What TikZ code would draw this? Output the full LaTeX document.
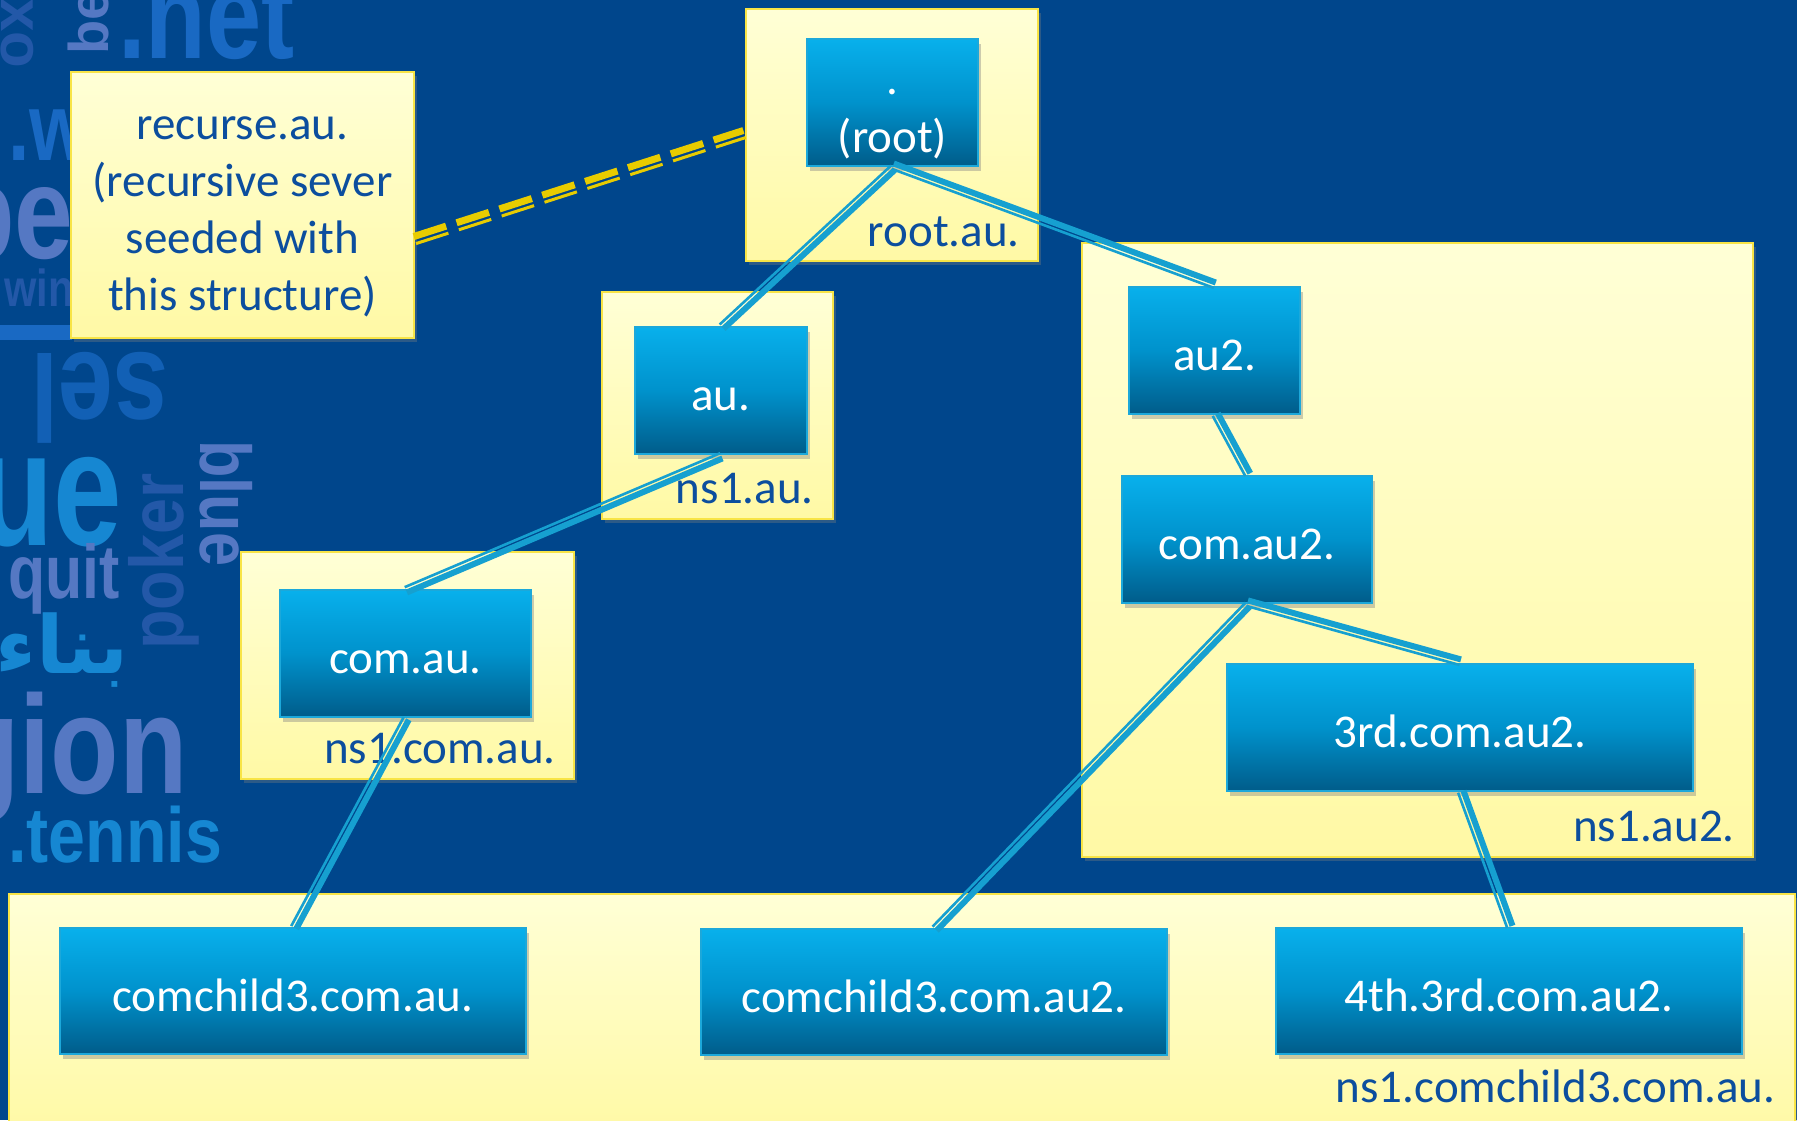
\documentclass[tikz,border=0pt]{standalone}
\usepackage{fontspec}
\setmainfont{Carlito}
\newfontfamily\bgfont{Liberation Sans}
\newfontfamily\arabicfont[Script=Arabic]{DejaVu Sans}
\TeXXeTstate=1
\usetikzlibrary{shadows,calc}
\definecolor{bg}{RGB}{0,70,140}
\definecolor{ytop}{RGB}{255,255,214}
\definecolor{ybot}{RGB}{255,249,165}
\definecolor{yborder}{RGB}{248,228,70}
\definecolor{btop}{RGB}{8,176,236}
\definecolor{bmid}{RGB}{0,146,204}
\definecolor{bbot}{RGB}{0,92,138}
\definecolor{bborder}{RGB}{28,168,218}
\definecolor{lbl}{RGB}{12,78,158}
\definecolor{conn}{RGB}{22,160,208}
\definecolor{dashc}{RGB}{232,204,0}
\definecolor{wA}{RGB}{25,105,195}
\definecolor{wB}{RGB}{85,120,195}
\definecolor{wC}{RGB}{22,135,210}
\definecolor{wD}{RGB}{35,88,168}
\tikzset{
  zone/.style={draw=yborder, line width=1.2pt, top color=ytop, bottom color=ybot,
    inner sep=0pt, drop shadow={shadow xshift=1.5pt, shadow yshift=-2pt, opacity=.35}},
  dnsbox/.style={draw=bborder, line width=1pt, top color=btop, bottom color=bbot, middle color=bmid,
    inner sep=0pt, text=white, align=center, font=\fontsize{23.5}{24.5}\selectfont,
    text height=22pt, text depth=2pt,
    drop shadow={shadow xshift=1.5pt, shadow yshift=-2.5pt, opacity=.4}},
  zlabel/.style={text=lbl, font=\fontsize{23.5}{28.5}\selectfont, anchor=base east, inner sep=0pt},
  connA/.style={draw=conn, line width=3pt},
  connB/.style={draw=conn, line width=1.3pt},
  dashA/.style={draw=dashc, line width=3.5pt, dash pattern=on 17pt off 5.5pt},
  dashB/.style={draw=dashc, line width=1.5pt, dash pattern=on 17pt off 5.5pt},
  bgword/.style={inner sep=0pt, font=\bgfont\bfseries, transform shape},
}
\newcommand\treelink[2]{%
  \draw[connA] ($(#1.south)!1.85pt!90:(#2.north)$) -- ($(#2.north)!1.85pt!-90:(#1.south)$);
  \draw[connB] ($(#1.south)!1.0pt!-90:(#2.north)$) -- ($(#2.north)!1.0pt!90:(#1.south)$);
}
\begin{document}
\begin{tikzpicture}[x=0.5pt,y=-0.5pt]
\useasboundingbox (0,0) rectangle (1797,1120);
\clip (0,0) rectangle (1797,1120);
\fill[bg] (0,0) rectangle (1797,1120);

% decorative background words
\node[bgword, text=wA, anchor=base west, xscale=0.8, font=\bgfont\bfseries\fontsize{62}{62}\selectfont] (w1) at (118,58) {.net};
\node[bgword, text=wD, rotate=-90, anchor=base west, font=\bgfont\bfseries\fontsize{30}{30}\selectfont] (w2) at (2,-2) {xo};
\node[bgword, text=wB, rotate=90, anchor=base west, font=\bgfont\bfseries\fontsize{28}{28}\selectfont] (w3) at (108,55) {bed};
\node[bgword, text=wA, anchor=base east, xscale=0.8, font=\bgfont\bfseries\fontsize{48}{48}\selectfont] (w4) at (90,160) {.w};
\node[bgword, text=wB, anchor=base east, xscale=0.8, font=\bgfont\bfseries\fontsize{66}{66}\selectfont] (w5) at (74,258) {pe};
\node[bgword, text=wD, anchor=base east, xscale=0.8, font=\bgfont\bfseries\fontsize{26}{26}\selectfont] (w6) at (74,306) {win};
\fill[wA] (0,325) rectangle (72,340);
\node[bgword, text=wA, rotate=180, xscale=0.8, opacity=0.75, font=\bgfont\bfseries\fontsize{62}{62}\selectfont] (w7) at (100,398) {sel};
\node[bgword, text=wC, anchor=base east, xscale=0.75, font=\bgfont\bfseries\fontsize{82}{82}\selectfont] (w8) at (122,545) {ue};
\node[bgword, text=wB, anchor=base east, xscale=0.8, font=\bgfont\bfseries\fontsize{38}{38}\selectfont] (w9) at (120,598) {quit};
\node[bgword, text=wD, rotate=90, anchor=base west, xscale=0.85, font=\bgfont\bfseries\fontsize{38}{38}\selectfont] (w10) at (183,650) {poker};
\node[bgword, text=wB, rotate=-90, anchor=base west, xscale=0.85, font=\bgfont\bfseries\fontsize{36}{36}\selectfont] (w11) at (200,440) {blue};
\node[bgword, text=wC, font=\arabicfont\bfseries\fontsize{40}{40}\selectfont] (w12) at (62,650) {\beginR بناء\endR};
\node[bgword, text=wB, anchor=base east, xscale=0.8, font=\bgfont\bfseries\fontsize{70}{70}\selectfont] (w13) at (188,793) {gion};
\node[bgword, text=wC, anchor=base west, xscale=0.85, font=\bgfont\bfseries\fontsize{39}{39}\selectfont] (w14) at (8,862) {.tennis};

% zones
\node[zone, minimum width=146pt, minimum height=126pt] (rootzone) at (892,135) {};
\node[zone, minimum width=171.5pt, minimum height=133pt, text=lbl, align=center,
      font=\fontsize{23.5}{28.5}\selectfont] (recurse) at (242.5,205)
      {\parbox[c][109pt][b]{165pt}{\centering recurse.au.\\(recursive sever\\seeded with\\this structure)}};
\node[zone, minimum width=115.5pt, minimum height=113.5pt] (ns1au) at (717.5,405.5) {};
\node[zone, minimum width=166.5pt, minimum height=113.5pt] (ns1comau) at (407.5,665.5) {};
\node[zone, minimum width=335.5pt, minimum height=307pt] (ns1au2) at (1417.5,550) {};
\node[zone, minimum width=893pt, minimum height=120.5pt] (ns1cc3) at (902,1014.5) {};

% zone labels
\node[zlabel] (lroot) at ($(rootzone.south east)+(-19,-16)$) {root.au.};
\node[zlabel] (lns1au) at ($(ns1au.south east)+(-20,-17)$) {ns1.au.};
\node[zlabel] (lns1comau) at ($(ns1comau.south east)+(-19,-17)$) {ns1.com.au.};
\node[zlabel] (lns1au2) at ($(ns1au2.south east)+(-19,-17)$) {ns1.au2.};
\node[zlabel] (lns1cc3) at (1776,1102) {ns1.comchild3.com.au.};

% DNS nodes
\node[dnsbox, text height=, text depth=, minimum width=85.5pt, minimum height=63.5pt] (root) at (892.5,102.5)
  {\parbox[c][53.5pt][b]{80pt}{\centering .\\[4.5pt](root)}};
\node[dnsbox, minimum width=86pt, minimum height=63.5pt] (au) at (721,390.5) {au.};
\node[dnsbox, minimum width=125.5pt, minimum height=63.5pt] (comau) at (405.5,653.5) {com.au.};
\node[dnsbox, minimum width=85.5pt, minimum height=63.5pt] (au2) at (1214.5,350.5) {au2.};
\node[dnsbox, minimum width=125pt, minimum height=63.5pt] (comau2) at (1247,539.5) {com.au2.};
\node[dnsbox, minimum width=233pt, minimum height=63.5pt] (third) at (1460,727.5) {3rd.com.au2.};
\node[dnsbox, minimum width=233pt, minimum height=63pt] (cc3au) at (293,991) {comchild3.com.au.};
\node[dnsbox, minimum width=233pt, minimum height=63pt] (cc3au2) at (934,992) {comchild3.com.au2.};
\node[dnsbox, minimum width=233pt, minimum height=63pt] (fourth) at (1509,991) {4th.3rd.com.au2.};

% connectors
\treelink{root}{au}
\treelink{root}{au2}
\treelink{au}{comau}
\treelink{comau}{cc3au}
\treelink{au2}{comau2}
\treelink{comau2}{third}
\treelink{comau2}{cc3au2}
\treelink{third}{fourth}

% dashed link from recursive server to root zone
\coordinate (dstart) at ($(recurse.east)+(0,36)$);
\draw[dashA] ($(dstart)!2.35pt!90:(rootzone.west)$) -- ($(rootzone.west)!2.35pt!-90:(dstart)$);
\draw[dashB] ($(dstart)!1.35pt!-90:(rootzone.west)$) -- ($(rootzone.west)!1.35pt!90:(dstart)$);
\end{tikzpicture}
\end{document}
